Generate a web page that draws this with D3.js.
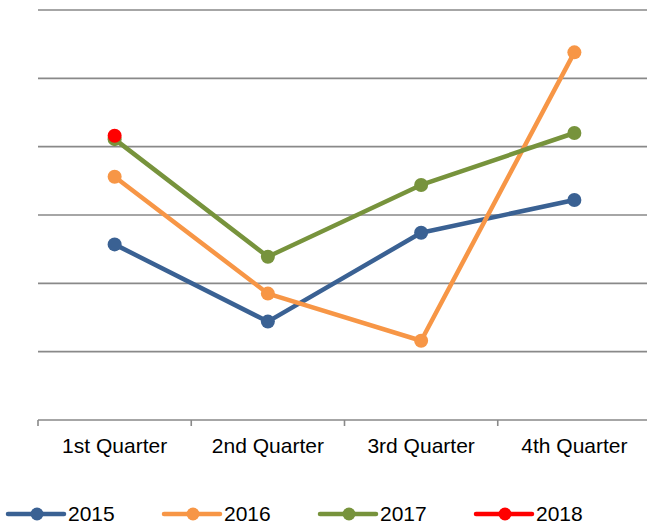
<!DOCTYPE html>
<html><head><meta charset="utf-8">
<script src="https://cdn.jsdelivr.net/npm/d3@7"></script>
<style>body{margin:0;background:#fff;}svg{display:block;}</style>
</head><body>
<svg id="c" width="647" height="527"></svg>
<script>
const categories = ["1st Quarter", "2nd Quarter", "3rd Quarter", "4th Quarter"];
const seriesNames = ["2015", "2016", "2017", "2018"];
const values2015 = [25.7, 14.4, 27.4, 32.2];
const values2016 = [35.6, 18.5, 11.6, 53.8];
const values2017 = [41.1, 23.9, 34.4, 42.0];
const values2018 = [41.6];
const colors = ["#3A6193", "#F79646", "#77933C", "#FF0000"];
const yTicks = [0, 10, 20, 30, 40, 50, 60];

const series = [values2015, values2016, values2017, values2018].map((v, i) => ({name: seriesNames[i], values: v, color: colors[i]}));

const svg = d3.select("#c");
const x = d3.scaleBand().domain(categories).range([38, 651]);
const y = d3.scaleLinear().domain([0, 60]).range([420, 10]);
const font = "'Liberation Sans', Arial, sans-serif";

// gridlines
svg.append("g").selectAll("line").data(yTicks.filter(d => d > 0)).join("line")
  .attr("x1", 38).attr("x2", 647)
  .attr("y1", d => y(d)).attr("y2", d => y(d))
  .attr("stroke", "#898989").attr("stroke-width", 1.6);

// x axis
const xAxis = d3.axisBottom(x).tickSize(0).tickPadding(0);
const ax = svg.append("g").attr("transform", "translate(0,420)").call(xAxis);
ax.select(".domain").remove();
ax.selectAll("text").attr("font-family", font).attr("font-size", 21).attr("fill", "#000").attr("y", 18).attr("dy", "0.71em");
svg.append("line").attr("x1", 38).attr("x2", 647).attr("y1", 420).attr("y2", 420).attr("stroke", "#898989").attr("stroke-width", 1.6);
svg.append("g").selectAll("line").data(categories).join("line")
  .attr("x1", d => x(d)).attr("x2", d => x(d)).attr("y1", 420).attr("y2", 426)
  .attr("stroke", "#898989").attr("stroke-width", 1.6);

const cx = (i) => x(categories[i]) + x.bandwidth() / 2;
const line = d3.line().x((d, i) => cx(i)).y(d => y(d));

series.forEach(s => {
  const g = svg.append("g");
  g.append("path").datum(s.values).attr("d", line).attr("fill", "none")
    .attr("stroke", s.color).attr("stroke-width", 4.5).attr("stroke-linejoin", "round");
  g.selectAll("circle").data(s.values).join("circle")
    .attr("cx", (d, i) => cx(i)).attr("cy", d => y(d)).attr("r", 7).attr("fill", s.color);
});

// legend
const legendX = [8, 164, 320, 476];
const lg = svg.append("g");
series.forEach((s, i) => {
  const g = lg.append("g").attr("transform", `translate(${legendX[i]},514)`);
  g.append("line").attr("x1", 0).attr("x2", 56).attr("stroke", s.color).attr("stroke-width", 4.5).attr("stroke-linecap", "round");
  g.append("circle").attr("cx", 29).attr("r", 6.5).attr("fill", s.color);
  g.append("text").attr("x", 60).attr("y", 7).attr("font-family", font).attr("font-size", 21).attr("fill", "#000").text(s.name);
});
</script>
</body></html>
